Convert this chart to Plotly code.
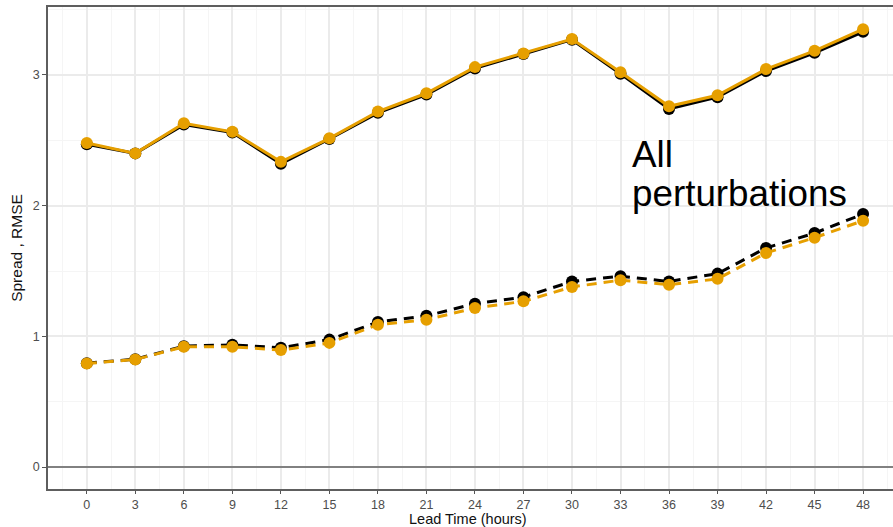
import plotly.graph_objects as go

lead_time = [0, 3, 6, 9, 12, 15, 18, 21, 24, 27, 30, 33, 36, 39, 42, 45, 48]

solid_black = [2.47, 2.40, 2.62, 2.56, 2.32, 2.51, 2.71, 2.85, 3.05, 3.16, 3.27, 3.01, 2.74, 2.83, 3.03, 3.17, 3.33]
solid_orange = [2.48, 2.40, 2.63, 2.565, 2.335, 2.515, 2.72, 2.86, 3.06, 3.165, 3.275, 3.02, 2.76, 2.845, 3.045, 3.185, 3.35]
dash_black = [0.795, 0.825, 0.925, 0.935, 0.912, 0.975, 1.11, 1.157, 1.25, 1.30, 1.42, 1.46, 1.42, 1.48, 1.676, 1.79, 1.936]
dash_orange = [0.792, 0.823, 0.92, 0.92, 0.895, 0.95, 1.089, 1.127, 1.217, 1.268, 1.378, 1.43, 1.395, 1.44, 1.638, 1.755, 1.885]

x_ticks = list(range(0, 49, 3))
y_ticks = [0, 1, 2, 3]

label_lines = ["All", "perturbations"]
x_title = "Lead Time (hours)"
y_title = "Spread , RMSE"

ORANGE = "#E69F00"
BLACK = "#000000"
FONT = "Liberation Sans, Arial, sans-serif"

fig = go.Figure()

def add(y, color, dash):
    fig.add_trace(go.Scatter(
        x=lead_time, y=y, mode="lines+markers",
        line=dict(color=color, width=3, dash=dash),
        marker=dict(color=color, size=12),
        showlegend=False, cliponaxis=False,
    ))

add(solid_black, BLACK, "solid")
add(dash_black, BLACK, "10px,7px")
add(solid_orange, ORANGE, "solid")
add(dash_orange, ORANGE, "10px,7px")

fig.add_hline(y=0, line=dict(color="#5e5e5e", width=1.5), layer="above")

for txt, ypos in zip(label_lines, [2.562, 2.268]):
    fig.add_annotation(
        x=33.6, y=ypos, xref="x", yref="y", xanchor="left", yanchor="top",
        text=txt, showarrow=False, align="left",
        font=dict(family=FONT, size=36.8, color="black"),
    )

# x-axis title placed at the very bottom of the figure
fig.add_annotation(
    x=23.6, y=0, xref="x", yref="paper", xanchor="center", yanchor="bottom",
    yshift=-39, text=x_title, showarrow=False, borderpad=0,
    font=dict(family=FONT, size=14.5, color="#111111"),
)

fig.update_layout(
    width=893, height=527,
    margin=dict(l=48, r=0, t=7, b=38),
    plot_bgcolor="white", paper_bgcolor="white",
    font=dict(family=FONT, color="#4d4d4d", size=12.5),
)

fig.update_xaxes(
    range=[-2.4, 49.85], tickvals=x_ticks, ticktext=[str(v) for v in x_ticks],
    showgrid=True, gridcolor="#ebebeb", gridwidth=1.5,
    minor=dict(dtick=1.5, tick0=0, showgrid=True, gridcolor="#f5f5f5", gridwidth=1),
    showline=True, linecolor="#5e5e5e", linewidth=1.5, mirror=True,
    ticks="outside", ticklen=3, tickcolor="#555555",
    zeroline=False,
    tickfont=dict(size=12.5, color="#4d4d4d"),
)
fig.update_yaxes(
    range=[-0.168, 3.52], tickvals=y_ticks, ticktext=[str(v) for v in y_ticks],
    showgrid=True, gridcolor="#ebebeb", gridwidth=1.5,
    minor=dict(dtick=0.5, tick0=0, showgrid=True, gridcolor="#f5f5f5", gridwidth=1),
    showline=True, linecolor="#5e5e5e", linewidth=1.5, mirror=False,
    ticks="outside", ticklen=4, tickcolor="#555555",
    zeroline=False,
    title=dict(text=y_title, font=dict(size=15.5, color="#111111"), standoff=6),
    tickfont=dict(size=12.5, color="#4d4d4d"),
)

fig.write_html("out.html")
